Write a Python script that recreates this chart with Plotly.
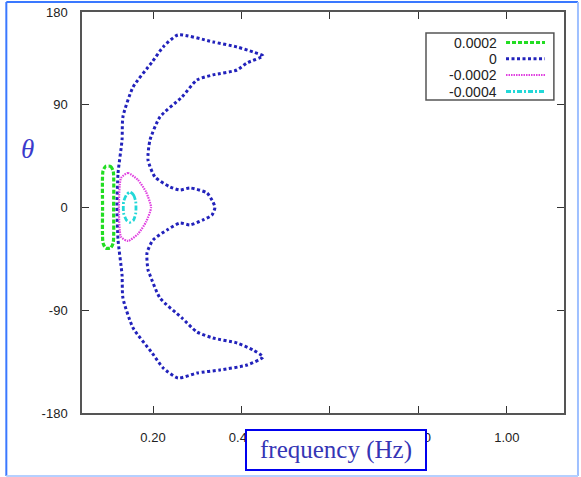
import plotly.graph_objects as go

# Contour levels and their styles
levels = ["0.0002", "0", "-0.0002", "-0.0004"]
colors = ["#22dd22", "#2222bb", "#e040e0", "#22d8d8"]
dashes = ["4px,2px", "3px,2.5px", "1.5px,1px", "5px,2px,2px,2px"]
widths = [3.2, 3.0, 2.2, 2.8]

# Level 0.0002 (frequency in Hz, theta in degrees)
green_f = [0.093, 0.104, 0.110, 0.111, 0.110, 0.104, 0.093, 0.087, 0.086, 0.087, 0.093]
green_theta = [36.0, 36.0, 32.0, 0.0, -31.0, -35.5, -35.5, -31.0, 0.0, 32.0, 36.0]

# Level 0
blue_f = [0.1186, 0.121, 0.130, 0.132, 0.155, 0.198, 0.223, 0.2565, 0.3356, 0.3898, 0.426, 0.4486,
          0.4124, 0.3898, 0.3356, 0.2994, 0.2655, 0.2158, 0.1932, 0.1887, 0.2045, 0.2384, 0.261,
          0.2836, 0.322, 0.3356, 0.340, 0.3333, 0.313, 0.2836, 0.261, 0.2316, 0.200, 0.1864, 0.1887,
          0.193, 0.2158, 0.2655, 0.2994, 0.3356, 0.3898, 0.426, 0.4486,
          0.4124, 0.3514, 0.2994, 0.2565, 0.223, 0.198, 0.155, 0.132, 0.130, 0.121, 0.1186]
blue_theta = [0.0, 30.2, 59.1, 79.3, 105.5, 127.4, 140.6, 151.1, 145.0, 140.6, 136.2, 132.7,
              126.6, 120.4, 116.1, 111.7, 96.8, 79.3, 59.1, 41.6, 26.7, 18.0, 15.3,
              17.1, 12.7, 4.8, 0.0, -6.6, -10.9, -15.3, -13.6, -19.7, -28.5, -39.9, -54.7,
              -59.1, -79.3, -96.8, -109.0, -114.3, -118.7, -124.8, -130.9,
              -138.0, -142.3, -145.0, -149.3, -140.6, -127.4, -105.5, -79.3, -59.1, -28.5, 0.0]

# Level -0.0002
magenta_f = [0.1277, 0.1435, 0.166, 0.1842, 0.1955, 0.1842, 0.166, 0.1435, 0.1277, 0.123, 0.1277]
magenta_theta = [25.8, 30.2, 24.1, 13.6, 0.0, -12.7, -23.2, -29.3, -25.8, 0.0, 25.8]

# Level -0.0004
cyan_f = [0.148, 0.156, 0.161, 0.161, 0.156, 0.148, 0.140, 0.1335, 0.1335, 0.140, 0.148]
cyan_theta = [13.5, 11.0, 5.0, -5.0, -11.0, -13.0, -11.0, -5.0, 5.0, 11.0, 13.5]

x_ticks = [0.2, 0.4, 0.6, 0.8, 1.0]
x_labels = ["0.20", "0.40", "0.60", "0.80", "1.00"]
y_ticks = [-180, -90, 0, 90, 171.2]
y_labels = ["-180", "-90", "0", "90", "180"]

series = [(green_f, green_theta), (blue_f, blue_theta), (magenta_f, magenta_theta), (cyan_f, cyan_theta)]

fig = go.Figure()
for (fx, th), c, d, w in zip(series, colors, dashes, widths):
    fig.add_trace(go.Scatter(x=fx, y=th, mode="lines", showlegend=False, hoverinfo="skip",
                             line=dict(color=c, dash=d, width=w, shape="spline", smoothing=0.6)))

axis_common = dict(showline=True, linecolor="#555555", linewidth=1.5, mirror="ticks",
                   ticks="inside", ticklen=7, tickwidth=1.2, tickcolor="#333333",
                   showgrid=False, zeroline=False, automargin=False,
                   tickfont=dict(family="Liberation Sans, Arial", size=13, color="#222222"))

fig.update_xaxes(range=[0.0395, 1.129], tickvals=x_ticks, ticktext=x_labels,
                 ticklabelstandoff=12, **axis_common)
fig.update_yaxes(range=[-180, 171.2], tickvals=y_ticks, ticktext=y_labels,
                 ticklabelstandoff=10, **axis_common)

shapes = []
annotations = []

# Key box
kx0, kx1, ky0, ky1 = 0.7137, 0.979, 0.7805, 0.9476
shapes.append(dict(type="rect", xref="paper", yref="paper", x0=kx0, x1=kx1, y0=ky0, y1=ky1,
                   line=dict(color="#555555", width=1.5), fillcolor="white", layer="above"))
row_y = [0.9239, 0.8833, 0.8429, 0.8017]
for lab, c, d, w, yy in zip(levels, colors, dashes, widths, row_y):
    annotations.append(dict(text=lab, xref="paper", yref="paper", x=0.865, y=yy,
                            xanchor="right", yanchor="middle", showarrow=False,
                            font=dict(family="Liberation Sans, Arial", size=14, color="#222222")))
    shapes.append(dict(type="line", xref="paper", yref="paper", x0=0.8797, x1=0.9606, y0=yy, y1=yy,
                       line=dict(color=c, dash=d, width=w), layer="above"))

# Outer frame
shapes.append(dict(type="line", xref="paper", yref="paper", x0=-0.157, x1=-0.157, y0=-0.157, y1=1.025,
                   line=dict(color="#3a78ff", width=2)))
shapes.append(dict(type="line", xref="paper", yref="paper", x0=-0.157, x1=1.029, y0=1.025, y1=1.025,
                   line=dict(color="#3a78ff", width=2)))
shapes.append(dict(type="line", xref="paper", yref="paper", x0=1.029, x1=1.029, y0=-0.157, y1=1.025,
                   line=dict(color="#9fc0ff", width=2)))
shapes.append(dict(type="line", xref="paper", yref="paper", x0=-0.157, x1=1.029, y0=-0.157, y1=-0.157,
                   line=dict(color="#b5d0ff", width=2)))

# Axis titles
annotations.append(dict(text="<i>θ</i>", xref="paper", yref="paper", x=-0.114, y=0.658,
                        xanchor="center", yanchor="middle", showarrow=False,
                        font=dict(family="Liberation Serif, Times New Roman", size=27, color="#3a3acc")))
annotations.append(dict(text="frequency (Hz)", xref="paper", yref="paper", x=0.527, y=-0.092,
                        xanchor="center", yanchor="middle", showarrow=False,
                        bgcolor="white", bordercolor="#0000ee", borderwidth=2, borderpad=3,
                        width=172, height=32,
                        font=dict(family="Liberation Serif, Times New Roman", size=25, color="#3535b5")))

fig.update_layout(width=581, height=477, margin=dict(l=82, r=17, t=12, b=64),
                  paper_bgcolor="white", plot_bgcolor="white",
                  shapes=shapes, annotations=annotations)

fig.write_html("out.html")
